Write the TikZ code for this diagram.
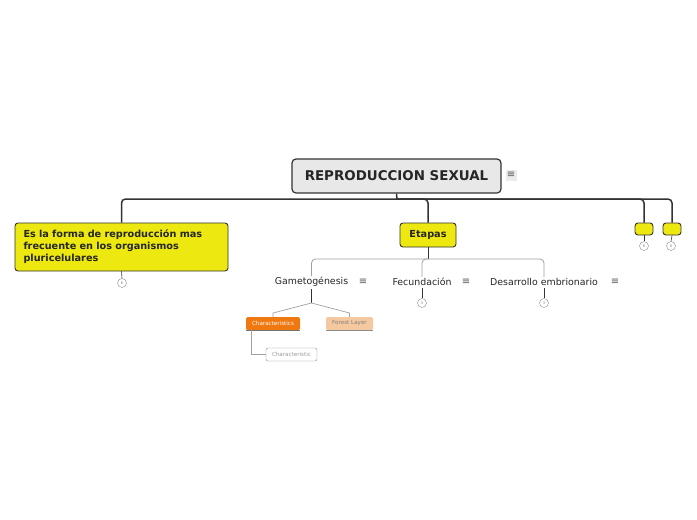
\documentclass[tikz,border=0pt]{standalone}
\usepackage{fontspec}
\setmainfont{DejaVu Sans}
\usetikzlibrary{positioning}
\definecolor{topicyellow}{HTML}{EDE80F}
\definecolor{rootgray}{HTML}{E8E8E8}
\definecolor{darkline}{HTML}{333333}
\definecolor{subline}{HTML}{A0A0A0}
\definecolor{charorange}{HTML}{F07810}
\definecolor{forestpeach}{HTML}{F5C9A0}
\begin{document}
\begin{tikzpicture}[
    x=1pt, y=-1pt,
    roottopic/.style={draw=darkline, fill=rootgray, rounded corners=4pt, line width=1.2pt,
        font=\bfseries\fontsize{13.4}{15}\selectfont, text=black!85},
    yellowtopic/.style={draw=darkline, fill=topicyellow, rounded corners=3pt, line width=0.9pt,
        font=\bfseries\fontsize{9.7}{12}\selectfont, text=black!85},
    subtopic/.style={inner sep=2pt, font=\fontsize{9.4}{11}\selectfont, text=black!85},
    menuicon/.style={inner sep=0.5pt, font=\fontsize{10}{10}\selectfont, text=black!65},
    badge/.style={draw=black!45, circle, fill=white, inner sep=0pt, minimum size=9pt,
        font=\fontsize{3.5}{4}\selectfont, text=black!50},
    mainline/.style={draw=darkline, line width=1.5pt, rounded corners=4pt},
    thinline/.style={draw=subline, line width=0.8pt, rounded corners=4pt},
    badgeline/.style={draw=darkline, line width=0.6pt}
]
\useasboundingbox (0,0) rectangle (697,520);

% main topic
\node[roottopic, minimum width=209pt, minimum height=34pt] (root) at (396.5,176) {REPRODUCCION SEXUAL};
\node[menuicon, fill=black!8, minimum size=11pt] (rootmenu) at (511,175) {≡};

% first level
\node[yellowtopic, minimum width=213pt, minimum height=48pt, text width=196pt, align=left] (forma) at (121.5,247)
    {Es la forma de reproducción mas\\frecuente en los organismos\\pluricelulares};
\node[yellowtopic, minimum width=56pt, minimum height=24pt] (etapas) at (428,235) {Etapas};
\node[yellowtopic, minimum width=18pt, minimum height=12pt, inner sep=0pt] (emptya) at (644,229) {};
\node[yellowtopic, minimum width=18pt, minimum height=12pt, inner sep=0pt] (emptyb) at (672,229) {};

\coordinate (bus) at (397,199);
\draw[mainline] (root.south) -- (bus);
\draw[mainline] (forma.north) |- (bus) -| (emptyb.north);
\draw[mainline] (bus) -| (etapas.north);
\draw[mainline] (bus) -| (emptya.north);

\node[badge] (formabadge) at (122,283) {6};
\node[badge] (emptyabadge) at (644,246) {8};
\node[badge] (emptybbadge) at (671,246) {8};
\draw[badgeline] (forma.south) -- (formabadge.north);
\draw[badgeline] (emptya.south) -- (emptyabadge.north);
\draw[badgeline] (emptyb.south) -- (emptybbadge.north);

% etapas
\node[subtopic] (gameto) at (311.5,282) {Gametogénesis};
\node[subtopic] (fecund) at (422,282) {Fecundación};
\node[subtopic] (desarr) at (544,282) {Desarrollo embrionario};
\node[menuicon] (gametomenu) at (363,282) {≡};
\node[menuicon] (fecundmenu) at (466,282) {≡};
\node[menuicon] (desarrmenu) at (615,282) {≡};

\coordinate (etapasbus) at (428,259);
\draw[badgeline, line width=1pt] (etapas.south) -- (etapasbus);
\draw[thinline] ([yshift=-1pt]gameto.north) |- (etapasbus) -| ([yshift=-1pt]desarr.north);
\draw[thinline] (etapasbus) -| ([yshift=-1pt]fecund.north);

\node[badge] (fecundbadge) at (422,303) {3};
\node[badge] (desarrbadge) at (544,303) {3};
\draw[badgeline] (fecund.south) -- (fecundbadge.north);
\draw[badgeline] (desarr.south) -- (desarrbadge.north);

% gametogenesis
\node[fill=charorange, rounded corners=1.5pt, minimum width=54pt, minimum height=13pt, inner sep=0pt,
    font=\fontsize{5.6}{6}\selectfont, text=white] (charac) at (273,323.5) {Characteristics};
\node[fill=forestpeach, rounded corners=1.5pt, minimum width=47pt, minimum height=13pt, inner sep=0pt,
    font=\fontsize{5.6}{6}\selectfont, text=black!50] (forest) at (349.5,323.5) {Forest Layer};
\draw[black!55, line width=0.7pt] (charac.south west) -- (charac.south east);
\draw[black!45, line width=0.7pt] (forest.south west) -- (forest.south east);
\node[draw=black!45, fill=white, rounded corners=2pt, minimum width=51pt, minimum height=13pt, inner sep=0pt,
    font=\fontsize{5.6}{6}\selectfont, text=black!40] (charone) at (291.5,354.5) {Characteristic};

\coordinate (gametofork) at (311.5,303);
\draw[badgeline, line width=0.8pt] (gameto.south) -- (gametofork);
\draw[subline, line width=0.7pt] (gametofork) -- (charac.north |- 0,313) -- (charac.north);
\draw[subline, line width=0.7pt] (gametofork) -- (forest.north |- 0,313) -- (forest.north);
\draw[subline, line width=0.7pt] ([xshift=6pt]charac.south west) |- (charone.west);
\end{tikzpicture}
\end{document}
